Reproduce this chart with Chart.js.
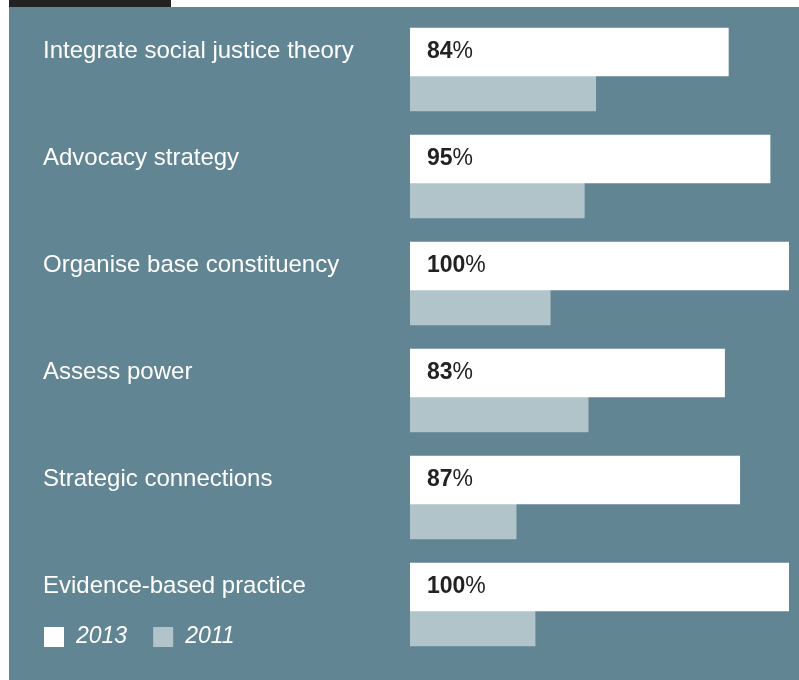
<!DOCTYPE html>
<html>
<head>
<meta charset="utf-8">
<script src="https://cdn.jsdelivr.net/npm/chart.js@4"></script>
<style>
  html, body { margin: 0; padding: 0; background: #fff; }
  #wrap { width: 799px; height: 680px; }
</style>
</head>
<body>
<div id="wrap"><canvas id="chart" width="799" height="680"></canvas></div>
<script>
// Datos del gráfico
const categories = [
    'Integrate social justice theory',
    'Advocacy strategy',
    'Organise base constituency',
    'Assess power',
    'Strategic connections',
    'Evidence-based practice'
];
const values2013 = [84, 95, 100, 83, 87, 100];
const values2011 = [49, 46, 37, 47, 28, 33];
const seriesLabels = ['2013', '2011'];

const PANEL = '#628594';
const GREY = '#b0c4ca';
const FONT = '"Liberation Sans", Arial, Helvetica, sans-serif';

// Fondo del panel + franja oscura superior
const panelPlugin = {
    id: 'panel',
    beforeDraw(chart) {
        const ctx = chart.ctx;
        ctx.save();
        ctx.fillStyle = '#ffffff';
        ctx.fillRect(0, 0, chart.width, chart.height);
        ctx.fillStyle = PANEL;
        ctx.fillRect(9, 7, chart.width - 9, chart.height - 7);
        ctx.fillStyle = '#222222';
        ctx.fillRect(9, 0, 162, 7);
        ctx.restore();
    }
};

// Etiquetas de porcentaje sobre las barras blancas
const valuePlugin = {
    id: 'values',
    afterDatasetsDraw(chart) {
        const ctx = chart.ctx;
        const meta = chart.getDatasetMeta(0);
        const data = chart.data.datasets[0].data;
        ctx.save();
        ctx.fillStyle = '#222222';
        ctx.textBaseline = 'middle';
        ctx.textAlign = 'left';
        meta.data.forEach((bar, i) => {
            const x = bar.base + 17;
            const y = bar.y;
            const num = String(data[i]);
            ctx.font = 'bold 23px ' + FONT;
            ctx.fillText(num, x, y);
            const w = ctx.measureText(num).width;
            ctx.font = '23px ' + FONT;
            ctx.fillText('%', x + w, y);
        });
        ctx.restore();
    }
};

// Leyenda manual abajo a la izquierda
const legendPlugin = {
    id: 'customLegend',
    afterDraw(chart) {
        const ctx = chart.ctx;
        ctx.save();
        ctx.textBaseline = 'middle';
        ctx.font = 'italic 23px ' + FONT;
        let x = 44;
        const y = 627;
        chart.data.datasets.forEach(ds => {
            ctx.fillStyle = ds.backgroundColor;
            ctx.fillRect(x, y, 20, 20);
            ctx.fillStyle = '#ffffff';
            ctx.fillText(ds.label, x + 32, y + 10);
            x += 32 + ctx.measureText(ds.label).width + 26;
        });
        ctx.restore();
    }
};

new Chart(document.getElementById('chart'), {
    type: 'bar',
    data: {
        labels: categories,
        datasets: [
            { label: seriesLabels[0], data: values2013, backgroundColor: '#ffffff', barThickness: 48 },
            { label: seriesLabels[1], data: values2011, backgroundColor: GREY, barThickness: 35 }
        ]
    },
    options: {
        indexAxis: 'y',
        responsive: false,
        animation: false,
        devicePixelRatio: 1,
        layout: { padding: { left: 43, right: 10, top: 22.5, bottom: 15.5 } },
        plugins: { legend: { display: false }, tooltip: { enabled: false } },
        scales: {
            x: { display: false, min: 0, max: 100 },
            y: {
                grid: { display: false },
                border: { display: false },
                afterFit(scale) { scale.width = 367; },
                ticks: {
                    color: '#ffffff',
                    crossAlign: 'far',
                    labelOffset: -25,
                    padding: 0,
                    font: { family: FONT, size: 24 }
                }
            }
        }
    },
    plugins: [panelPlugin, valuePlugin, legendPlugin]
});
</script>
</body>
</html>
